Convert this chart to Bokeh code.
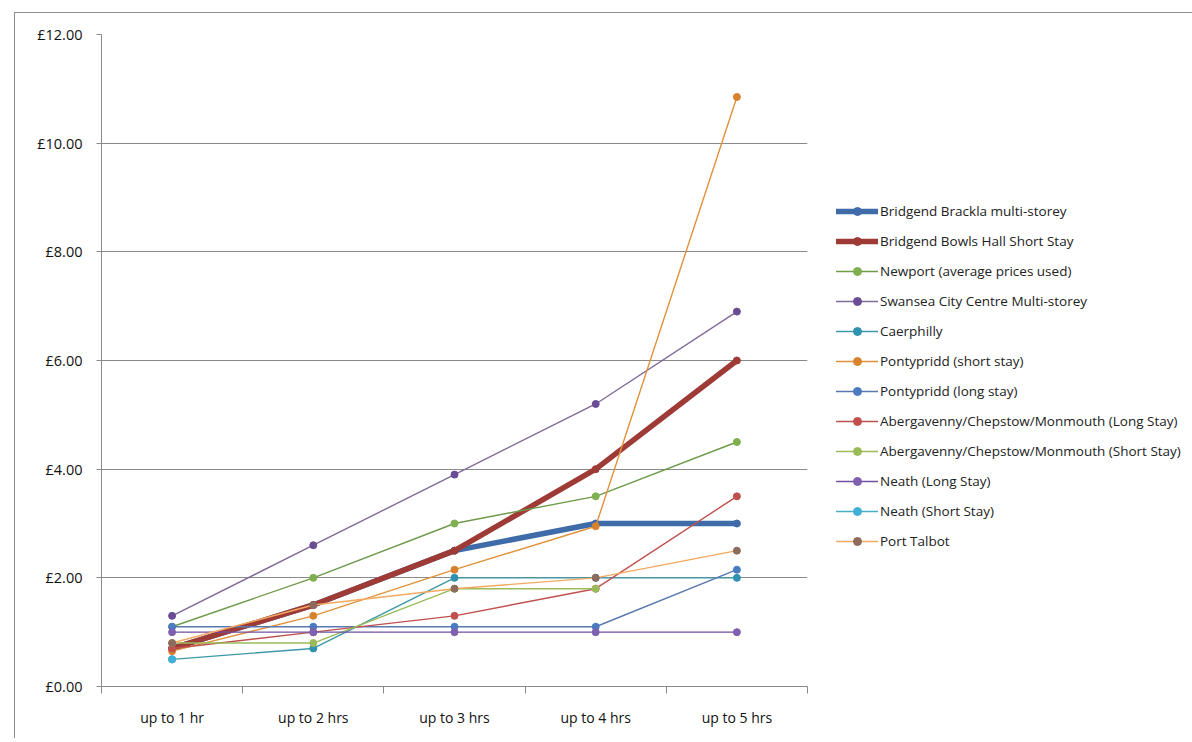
import math
from bokeh.plotting import figure
from bokeh.models import (Range1d, FactorRange, LinearAxis, CategoricalAxis,
                          FixedTicker, Legend, LegendItem, Grid)
from bokeh.embed import file_html
from bokeh.resources import INLINE

nan = math.nan

categories = ["up to 1 hr", "up to 2 hrs", "up to 3 hrs", "up to 4 hrs", "up to 5 hrs"]
y_ticks = [0, 2, 4, 6, 8, 10, 12]
y_tick_labels = ["£0.00", "£2.00", "£4.00", "£6.00", "£8.00", "£10.00", "£12.00"]

series_names = [
    "Bridgend Brackla multi-storey",
    "Bridgend Bowls Hall Short Stay",
    "Newport (average prices used)",
    "Swansea City Centre Multi-storey",
    "Caerphilly",
    "Pontypridd (short stay)",
    "Pontypridd (long stay)",
    "Abergavenny/Chepstow/Monmouth (Long Stay)",
    "Abergavenny/Chepstow/Monmouth (Short Stay)",
    "Neath (Long Stay)",
    "Neath (Short Stay)",
    "Port Talbot",
]

brackla = [0.7, 1.5, 2.5, 3.0, 3.0]
bowls_hall = [0.7, 1.5, 2.5, 4.0, 6.0]
newport = [1.1, 2.0, 3.0, 3.5, 4.5]
swansea = [1.3, 2.6, 3.9, 5.2, 6.9]
caerphilly = [0.5, 0.7, 2.0, 2.0, 2.0]
pontypridd_short = [0.65, 1.3, 2.15, 2.95, 10.85]
pontypridd_long = [1.1, 1.1, 1.1, 1.1, 2.15]
aberg_long = [0.7, 1.0, 1.3, 1.8, 3.5]
aberg_short = [0.8, 0.8, 1.8, 1.8, nan]
neath_long = [1.0, 1.0, 1.0, 1.0, 1.0]
neath_short = [0.5, nan, nan, nan, nan]
port_talbot = [0.8, 1.5, 1.8, 2.0, 2.5]

series_values = [brackla, bowls_hall, newport, swansea, caerphilly, pontypridd_short,
                 pontypridd_long, aberg_long, aberg_short, neath_long, neath_short, port_talbot]

line_colors = ["#3f6ca8", "#9e3b36", "#6e9a4a", "#7f6a9a", "#3c98a8", "#e0913a",
               "#5a78b0", "#c0504d", "#9bbb59", "#7050a0", "#4bacc6", "#f5a860"]
marker_colors = ["#3f6ca8", "#9e3b36", "#7faf4f", "#6a4c94", "#2e92b0", "#d9822e",
                 "#4a7ac0", "#c0504d", "#9bbb59", "#7f5fb0", "#40b0d8", "#8c6a5c"]
line_widths = [5.5, 5.5, 1.4, 1.4, 1.4, 1.4, 1.4, 1.4, 1.4, 1.4, 1.4, 1.4]

FONT = "Open Sans"
GRID = "#8a8a8a"

p = figure(x_range=FactorRange(*categories), y_range=Range1d(0, 12),
           x_axis_type=None, y_axis_type=None,
           frame_width=706, frame_height=652,
           min_border_left=86, min_border_right=379, min_border_top=21, min_border_bottom=52,
           output_backend="svg", toolbar_location=None,
           background_fill_color="white", border_fill_color="white")
p.outline_line_color = None
p.styles = {"margin-left": "14px", "margin-top": "12px",
            "border-top": "1px solid #8c8c8c", "border-left": "1px solid #8c8c8c"}

# y axis
yaxis = LinearAxis(ticker=FixedTicker(ticks=y_ticks),
                   major_label_overrides={t: s for t, s in zip(y_ticks, y_tick_labels)})
yaxis.axis_line_color = GRID
yaxis.major_tick_line_color = GRID
yaxis.major_tick_out = 5
yaxis.major_tick_in = 0
yaxis.minor_tick_line_color = None
yaxis.major_label_text_font = FONT
yaxis.major_label_text_font_size = "14.5px"
yaxis.major_label_text_color = "#111111"
yaxis.major_label_standoff = 14
p.add_layout(yaxis, "left")
p.add_layout(Grid(dimension=1, ticker=yaxis.ticker, grid_line_color=GRID, grid_line_width=1))

# boundary ticks on the x axis (synthetic categorical coordinates 0..N)
bounds = list(range(len(categories) + 1))
tick_axis = LinearAxis(ticker=FixedTicker(ticks=bounds),
                       major_label_overrides={b: "" for b in bounds})
tick_axis.axis_line_color = GRID
tick_axis.major_tick_line_color = GRID
tick_axis.major_tick_out = 7
tick_axis.major_tick_in = 0
tick_axis.minor_tick_line_color = None
tick_axis.major_label_standoff = 0
p.add_layout(tick_axis, "below")

cat_axis = CategoricalAxis()
cat_axis.axis_line_color = None
cat_axis.major_tick_line_color = None
cat_axis.minor_tick_line_color = None
cat_axis.major_label_text_font = FONT
cat_axis.major_label_text_font_size = "14px"
cat_axis.major_label_text_color = "#111111"
cat_axis.major_label_standoff = 8
p.add_layout(cat_axis, "below")

items = []
for name, vals, lc, mc, lw in zip(series_names, series_values, line_colors, marker_colors, line_widths):
    r_line = p.line(categories, vals, line_color=lc, line_width=lw, line_join="round", line_cap="round")
    r_mark = p.scatter(categories, vals, size=7, fill_color=mc, line_color=mc)
    items.append(LegendItem(label=name, renderers=[r_line, r_mark]))

legend = Legend(items=items, location=(29, 135))
legend.label_text_font = FONT
legend.label_text_font_size = "13.5px"
legend.label_text_color = "#222222"
legend.glyph_width = 42
legend.glyph_height = 20
legend.label_height = 20
legend.spacing = 10
legend.padding = 0
legend.margin = 0
legend.label_standoff = 2
legend.border_line_color = None
legend.background_fill_alpha = 0
p.add_layout(legend, "right")

open("out.html", "w").write(file_html(p, INLINE))
